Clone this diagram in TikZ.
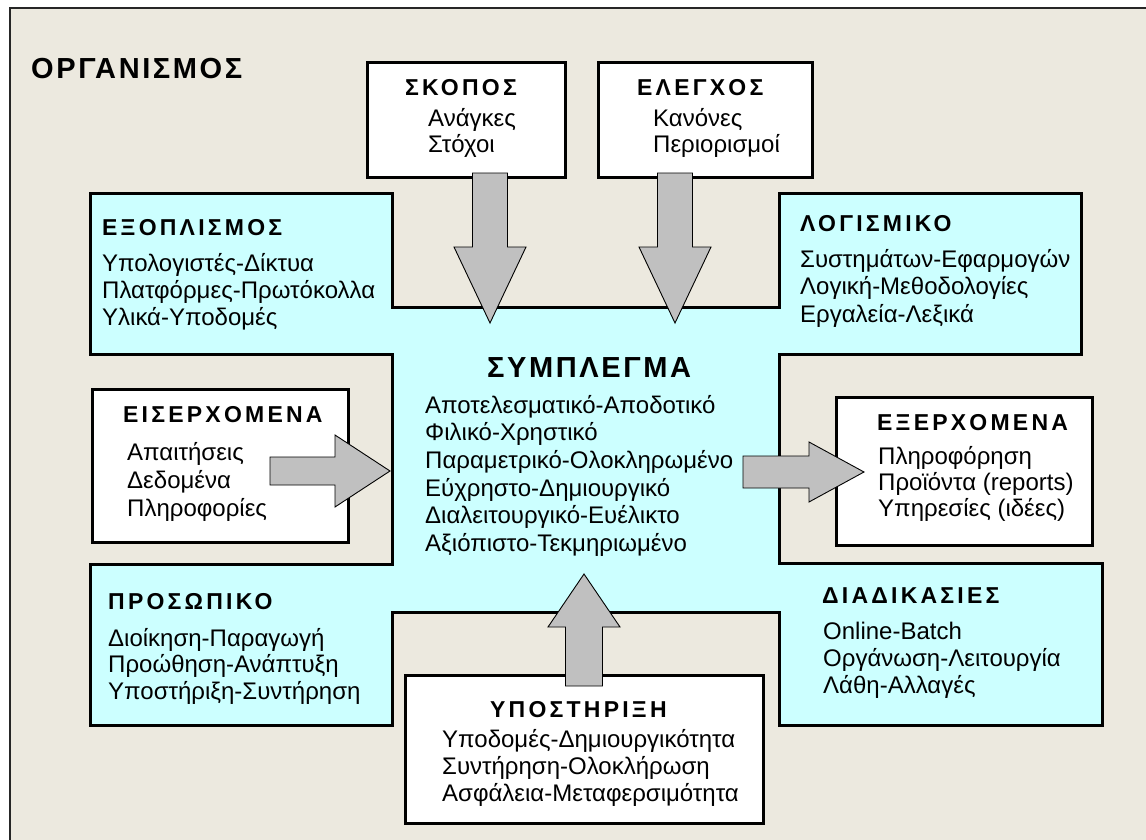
\documentclass[tikz,border=0pt]{standalone}
\usepackage{fontspec}
\setmainfont{Liberation Sans}
\newfontfamily\headfont{Liberation Sans}[LetterSpace=14]
\newfontfamily\bigheadfont{Liberation Sans}[LetterSpace=9]
\usetikzlibrary{calc}
\definecolor{paper}{HTML}{ECE9DF}
\definecolor{aqua}{HTML}{CCFFFF}
\definecolor{arrowgray}{HTML}{C0C0C0}

% block arrow from tail coordinate #1 to tip coordinate #2;
% #3 half shaft width, #4 half head width, #5 head length (all in pt)
\newcommand\blockarrow[5]{%
  \draw[garrow] let \p1=(#1), \p2=(#2),
      \n1={veclen(\x2-\x1,\y2-\y1)},
      \n2={(\x2-\x1)/\n1}, \n3={(\y2-\y1)/\n1} in
    ({\x1-\n3*#3},{\y1+\n2*#3}) --
    ({\x2-\n2*#5-\n3*#3},{\y2-\n3*#5+\n2*#3}) --
    ({\x2-\n2*#5-\n3*#4},{\y2-\n3*#5+\n2*#4}) --
    (\p2) --
    ({\x2-\n2*#5+\n3*#4},{\y2-\n3*#5-\n2*#4}) --
    ({\x2-\n2*#5+\n3*#3},{\y2-\n3*#5-\n2*#3}) --
    ({\x1+\n3*#3},{\y1-\n2*#3}) -- cycle;}

\begin{document}
\begin{tikzpicture}[x=1pt,y=-1pt,
  outline/.style={draw=black, line width=3pt, line join=miter},
  wbox/.style={outline, fill=white, rectangle, inner sep=0pt, outer sep=0pt},
  garrow/.style={draw=black, line width=0.9pt, fill=arrowgray, line join=miter},
  head/.style={font=\headfont\bfseries\fontsize{23}{27}\selectfont, anchor=base west, inner sep=0pt},
  bighead/.style={font=\bigheadfont\bfseries\fontsize{29}{33}\selectfont, anchor=base west, inner sep=0pt},
  body/.style={font=\fontsize{24}{#1}\selectfont, anchor=north west, inner sep=0pt, align=left},
  body/.default=27,
]
\useasboundingbox (0,0) rectangle (1146,840);
\clip (0,0) rectangle (1146,840);

% outer frame
\draw[fill=paper, draw=black!85, line width=2pt] (10,8) rectangle (1170,870);

% the cross-shaped system area
\draw[outline, fill=aqua]
  (90,193) -- (392,193) -- (392,307) -- (779,307) -- (779,193) -- (1081,193)
  -- (1081,354) -- (779,354) -- (779,563) -- (1102,563) -- (1102,725)
  -- (779,725) -- (779,612) -- (392,612) -- (392,725) -- (90,725)
  -- (90,564) -- (392,564) -- (392,354) -- (90,354) -- cycle;

% white boxes
\node[wbox, minimum width=198, minimum height=114] (skopos) at (466,120) {};
\node[wbox, minimum width=214, minimum height=114] (elegxos) at (705,120) {};
\node[wbox, minimum width=256, minimum height=153] (eiserx) at (220,465.5) {};
\node[wbox, minimum width=256, minimum height=148] (exerx) at (964,471) {};
\node[wbox, minimum width=358, minimum height=148] (ypost) at (584,749) {};

% arrow end points
\coordinate (skoposT) at (490,173);
\coordinate (skoposH) at (490,323);
\coordinate (elegxosT) at (675,173);
\coordinate (elegxosH) at (675,323);
\coordinate (eiserxT) at (270,471);
\coordinate (eiserxH) at (390,471);
\coordinate (exerxT) at (743,472);
\coordinate (exerxH) at (864,472);
\coordinate (ypostT) at (584,686);
\coordinate (ypostH) at (584,574);

\blockarrow{skoposT}{skoposH}{17.5}{36}{76}
\blockarrow{elegxosT}{elegxosH}{17.5}{36}{76}
\blockarrow{eiserxT}{eiserxH}{14}{36}{55}
\blockarrow{exerxT}{exerxH}{16}{30}{55}
\blockarrow{ypostT}{ypostH}{18.5}{36}{53}

% labels
\node[bighead] (orgT) at (31,79) {ΟΡΓΑΝΙΣΜΟΣ};

\node[head] (skoposL) at (405,96) {ΣΚΟΠΟΣ};
\node[body=26] (skoposB) at (428,107.8) {\strut Ανάγκες\\\strut Στόχοι};

\node[head] (elegxosL) at (637,96) {ΕΛΕΓΧΟΣ};
\node[body=26] (elegxosB) at (653,107.8) {\strut Κανόνες\\\strut Περιορισμοί};

\node[head] (exoplL) at (102,235) {ΕΞΟΠΛΙΣΜΟΣ};
\node[body] (exoplB) at (102,252.1) {\strut Υπολογιστές-Δίκτυα\\\strut Πλατφόρμες-Πρωτόκολλα\\\strut Υλικά-Υποδομές};

\node[head] (logL) at (800,231) {ΛΟΓΙΣΜΙΚΟ};
\node[body=27.5] (logB) at (800,247.75) {\strut Συστημάτων-Εφαρμογών\\\strut Λογική-Μεθοδολογίες\\\strut Εργαλεία-Λεξικά};

\node[bighead] (sympL) at (487,377) {ΣΥΜΠΛΕΓΜΑ};
\node[body=27.7] (sympB) at (425,393.6) {\strut Αποτελεσματικό-Αποδοτικό\\\strut Φιλικό-Χρηστικό\\\strut Παραμετρικό-Ολοκληρωμένο\\\strut Εύχρηστο-Δημιουργικό\\\strut Διαλειτουργικό-Ευέλικτο\\\strut Αξιόπιστο-Τεκμηριωμένο};

\node[head] (eiserxL) at (123,422) {ΕΙΣΕΡΧΟΜΕΝΑ};
\node[body=28] (eiserxB) at (127,440.4) {\strut Απαιτήσεις\\\strut Δεδομένα\\\strut Πληροφορίες};

\node[head] (exerxL) at (877,430) {ΕΞΕΡΧΟΜΕΝΑ};
\node[body=26] (exerxB) at (878,445.8) {\strut Πληροφόρηση\\\strut Προϊόντα (reports)\\\strut Υπηρεσίες (ιδέες)};

\node[head] (prosL) at (108,609) {ΠΡΟΣΩΠΙΚΟ};
\node[body=26.5] (prosB) at (108,627.45) {\strut Διοίκηση-Παραγωγή\\\strut Προώθηση-Ανάπτυξη\\\strut Υποστήριξη-Συντήρηση};

\node[head] (diadL) at (822,603) {ΔΙΑΔΙΚΑΣΙΕΣ};
\node[body] (diadB) at (823,620.1) {\strut Online-Batch\\\strut Οργάνωση-Λειτουργία\\\strut Λάθη-Αλλαγές};

\node[head] (ypostL) at (490,717) {ΥΠΟΣΤΗΡΙΞΗ};
\node[body] (ypostB) at (442,728.1) {\strut Υποδομές-Δημιουργικότητα\\\strut Συντήρηση-Ολοκλήρωση\\\strut Ασφάλεια-Μεταφερσιμότητα};
\end{tikzpicture}
\end{document}
